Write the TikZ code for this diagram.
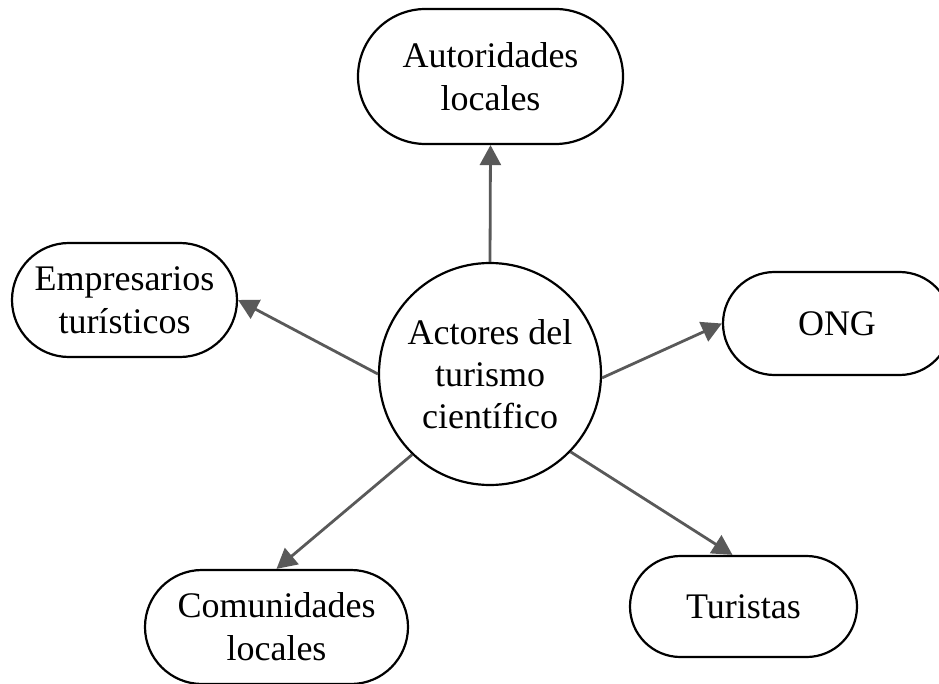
\documentclass[tikz,border=0pt]{standalone}
\usepackage{fontspec}
\setmainfont{Liberation Serif}
\usetikzlibrary{shapes.misc,arrows.meta}
\begin{document}
\begin{tikzpicture}[x=1pt,y=-1pt,
  box/.style={rounded rectangle, draw=black, line width=2.2pt, align=center, inner sep=0pt,
    font=\fontsize{36}{43}\selectfont},
  hub/.style={circle, draw=black, line width=2.2pt, align=center, inner sep=0pt,
    minimum size=222pt, font=\fontsize{36}{42}\selectfont},
  link/.style={draw=black!65, line width=2.8pt, -{Triangle[length=20pt,width=21pt]}}]
\useasboundingbox (0,0) rectangle (939,684);
\begin{scope}
\clip (0,0) rectangle (939,684);
\node[hub] (c) at (490,374) {Actores del\\turismo\\científico};
\node[box, minimum width=265pt, minimum height=135pt] (aut) at (490.5,76.5) {Autoridades\\locales};
\node[box, minimum width=225pt, minimum height=114pt] (emp) at (124.5,300) {Empresarios\\turísticos};
\node[box, minimum width=228pt, minimum height=103pt] (ong) at (837,323.5) {ONG};
\node[box, minimum width=263pt, minimum height=114pt] (com) at (276.5,627) {Comunidades\\locales};
\node[box, minimum width=227pt, minimum height=101pt] (tur) at (743.5,606.5) {Turistas};
\end{scope}
\coordinate (turin) at ([xshift=-11pt]tur.north);
\draw[link] (c.north) -- (aut.south);
\draw[link] (c.180) -- (emp.east);
\draw[link] (c.-2) -- (ong.west);
\draw[link] (c.226) -- (com.north);
\draw[link] (c.-44) -- (turin);
\end{tikzpicture}
\end{document}
